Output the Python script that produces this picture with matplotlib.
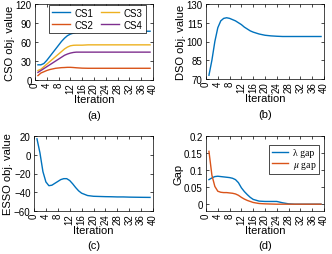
import numpy as np
import matplotlib.pyplot as plt

plt.rcParams['font.family'] = ['Liberation Sans', 'DejaVu Sans']
plt.rcParams['mathtext.fontset'] = 'stix'

# iterations
it = [1, 2, 3, 4, 5, 6, 7, 8, 9, 10, 11, 12, 13, 14, 15, 16, 18, 20, 22, 24, 26, 28, 30, 32, 34, 36, 39]

# (a) CSO objective values
cs1 = [24, 24, 26, 31, 37, 43, 49, 55, 61, 66, 70, 72.5, 74, 75.5, 76, 76.5, 77, 77, 77, 77, 77, 77, 77, 77, 77, 77, 77]
cs2 = [7, 11, 13, 15, 16.5, 17.5, 18.5, 19, 19.5, 19.7, 20, 20, 19.7, 19.3, 19, 18.7, 18.5, 18.5, 18.5, 18.5, 18.5, 18.5, 18.5, 18.5, 18.5, 18.5, 18.5]
cs3 = [15, 17, 21, 25, 29, 33, 37, 41, 45, 49, 52, 54, 54.8, 55, 55, 55, 55.5, 55.5, 55.5, 55.5, 55.5, 55.5, 55.5, 55.5, 55.5, 55.5, 55.5]
cs4 = [12, 15, 18, 21, 24, 27, 30, 33, 36, 39, 41, 42.5, 43.5, 44, 44, 44, 44, 44, 44, 44, 44, 44, 44, 44, 44, 44, 44]

# (b) DSO objective value
dso = [73, 85, 100, 111, 116.5, 118.5, 119, 118.5, 117.5, 116.5, 115, 113.5, 111.5, 110, 108.5, 107.5, 106, 105, 104.5, 104.2, 104, 104, 104, 104, 104, 104, 104]

# (c) ESSO objective value
esso = [17, 2, -18, -29, -33, -32.5, -30.5, -28.5, -26.5, -25.5, -25.5, -27.5, -31, -35, -38.5, -41, -43.5, -44.3, -44.5, -44.7, -44.8, -45, -45, -45.2, -45.3, -45.4, -45.5]

# (d) gaps
lam_gap = [0.072, 0.077, 0.081, 0.082, 0.081, 0.080, 0.079, 0.078, 0.076, 0.072, 0.063, 0.048, 0.037, 0.028, 0.020, 0.014, 0.009, 0.008, 0.008, 0.008, 0.004, 0.001, 0, 0, 0, 0, 0]
mu_gap = [0.155, 0.085, 0.052, 0.038, 0.035, 0.034, 0.034, 0.033, 0.032, 0.030, 0.026, 0.020, 0.015, 0.011, 0.008, 0.005, 0.002, 0.001, 0.0005, 0, 0, 0, 0, 0, 0, 0, 0]

blue, red, yellow, purple = '#0072BD', '#D95319', '#EDB120', '#7E2F8E'
xticks = np.arange(0, 41, 4)

fig = plt.figure(figsize=(3.32, 2.55), dpi=100)
W, H = 332, 255
def axes_at(x0, y0, x1, y1):
    return fig.add_axes([x0 / W, (H - y1) / H, (x1 - x0) / W, (y1 - y0) / H])

axa = axes_at(35, 5, 153, 81)
axb = axes_at(206, 5, 324, 80)
axc = axes_at(34, 137, 153, 212)
axd = axes_at(206, 137, 324, 212)

def style(ax, yt, ylab, cap, yfmt=None):
    ax.set_xlim(0, 40)
    ax.set_xticks(xticks)
    ax.set_xticklabels([str(v) for v in xticks], rotation=90)
    ax.set_yticks(yt)
    if yfmt:
        ax.set_yticklabels(yfmt)
    ax.set_ylim(yt[0], yt[-1])
    ax.tick_params(direction='in', length=2, width=0.5, labelsize=7, top=True, right=True)
    ax.tick_params(axis='x', pad=1.5)
    ax.tick_params(axis='y', pad=2.5)
    for s in ax.spines.values():
        s.set_linewidth(0.5)
    ax.set_xlabel('Iteration', fontsize=8, labelpad=1)
    ax.set_ylabel(ylab, fontsize=8, labelpad=0.5)
    ax.text(0.5, -0.46, cap, transform=ax.transAxes, ha='center', va='center', fontsize=8)

axa.plot(it, cs1, color=blue, lw=1, label='CS1')
axa.plot(it, cs2, color=red, lw=1, label='CS2')
axa.plot(it, cs3, color=yellow, lw=1, label='CS3')
axa.plot(it, cs4, color=purple, lw=1, label='CS4')
style(axa, [0, 30, 60, 90, 120], 'CSO obj. value', '(a)')
leg = axa.legend(ncol=2, fontsize=7, loc='upper center', bbox_to_anchor=(0.53, 0.99), borderaxespad=0,
                 handlelength=1.8, columnspacing=0.8, handletextpad=0.5, borderpad=0.3, labelspacing=0.2,
                 fancybox=False, edgecolor='black', framealpha=1)
leg.get_frame().set_linewidth(0.5)

axb.plot(it, dso, color=blue, lw=1)
style(axb, [70, 85, 100, 115, 130], 'DSO obj. value', '(b)')

axc.plot(it, esso, color=blue, lw=1)
style(axc, [-60, -40, -20, 0, 20], 'ESSO obj. value', '(c)')

axd.plot(it, lam_gap, color=blue, lw=1, label=r'λ gap')
axd.plot(it, mu_gap, color=red, lw=1, label=r'$\mu$ gap')
style(axd, [0, 0.05, 0.1, 0.15, 0.2], 'Gap', '(d)', ['0', '0.05', '0.1', '0.15', '0.2'])
axd.set_ylim(-0.02, 0.2)
leg = axd.legend(loc='upper right', bbox_to_anchor=(0.958, 0.88), borderaxespad=0,
                 handlelength=1.6, handletextpad=0.5, borderpad=0.3, labelspacing=0.2,
                 fancybox=False, edgecolor='black', framealpha=1,
                 prop={'family': 'Liberation Serif', 'size': 7})
leg.get_frame().set_linewidth(0.5)

fig.savefig('out.png', dpi=100)
